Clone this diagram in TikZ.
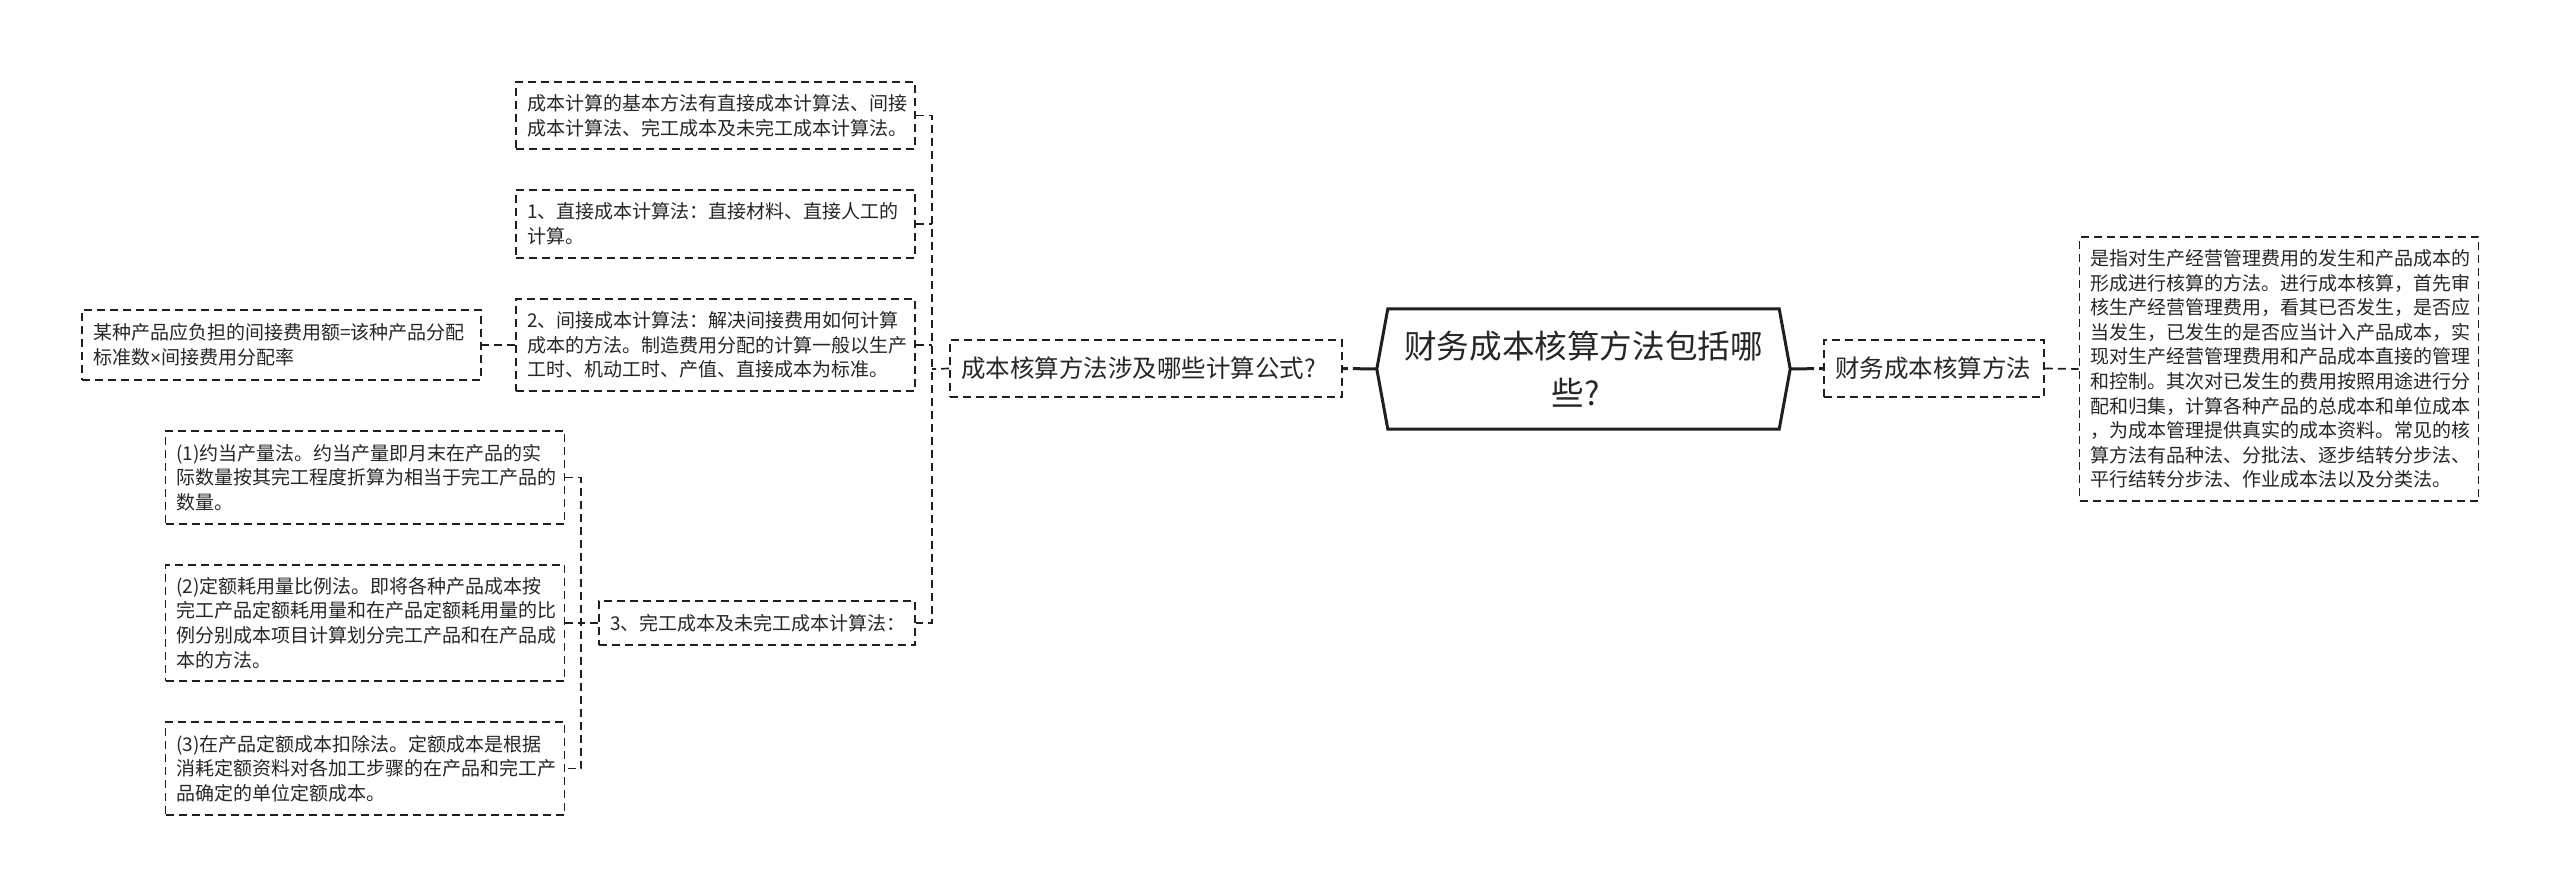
\documentclass[tikz,border=0pt]{standalone}
\usepackage{fontspec}
\setmainfont{Noto Sans CJK SC}
\newfontfamily\latinfont{Liberation Sans}
\tikzset{
  x=1pt,y=-1pt,
  dashline/.style={line width=1.7pt,draw=black!88,dash pattern=on 8pt off 5pt},
  bx/.style={dashline,rectangle,inner xsep=11pt,inner ysep=0pt,align=left,text=black!85,
    font=\fontsize{19}{24.6}\selectfont},
  bigbx/.style={dashline,rectangle,inner xsep=11pt,inner ysep=0pt,align=left,text=black!85,
    font=\fontsize{24.5}{30}\selectfont},
  rootbx/.style={rectangle,inner sep=0pt,align=center,text=black!85,
    font=\fontsize{32.6}{47}\selectfont,minimum width=413pt,minimum height=120pt},
  rootlink/.style={line width=3pt,draw=black!88,dash pattern=on 24pt off 5pt on 5pt off 5pt},
  link/.style={dashline},
}
\begin{document}
\begin{tikzpicture}
\useasboundingbox (0,0) rectangle (2560,896);
% root
\node[rootbx] (hex) at (1583.5,369) {财务成本核算方法包括哪\\些?\hspace*{16pt}};
\draw[line width=3pt,draw=black!88,line join=miter]
  (hex.west) -- ([xshift=11pt]hex.north west) -- ([xshift=-11pt]hex.north east) -- (hex.east)
  -- ([xshift=-11pt]hex.south east) -- ([xshift=11pt]hex.south west) -- cycle;
% level 1
\node[bigbx,text width=370pt,minimum height=57pt] (calc) at (1146,368.5) {成本核算方法涉及哪些计算公式?};
\node[bigbx,text width=198pt,minimum height=57pt] (method) at (1934,368.5) {财务成本核算方法};
\node[bx,text width=377pt,minimum height=264pt] (desc) at (2279,369)
 {是指对生产经营管理费用的发生和产品成本的\\形成进行核算的方法。进行成本核算，首先审\\核生产经营管理费用，看其已否发生，是否应\\当发生，已发生的是否应当计入产品成本，实\\现对生产经营管理费用和产品成本直接的管理\\和控制。其次对已发生的费用按照用途进行分\\配和归集，计算各种产品的总成本和单位成本\\，为成本管理提供真实的成本资料。常见的核\\算方法有品种法、分批法、逐步结转分步法、\\平行结转分步法、作业成本法以及分类法。};
% level 2
\node[bx,text width=377pt,minimum height=67pt] (basic) at (715.5,115.5)
 {成本计算的基本方法有直接成本计算法、间接\\成本计算法、完工成本及未完工成本计算法。};
\node[bx,text width=377pt,minimum height=68pt] (direct) at (715.5,224)
 {1、直接成本计算法：直接材料、直接人工的\\计算。};
\node[bx,text width=377pt,minimum height=92pt] (indirect) at (715.5,345)
 {2、间接成本计算法：解决间接费用如何计算\\成本的方法。制造费用分配的计算一般以生产\\工时、机动工时、产值、直接成本为标准。};
\node[bx,text width=294pt,minimum height=44pt] (finish) at (757,623)
 {3、完工成本及未完工成本计算法：};
% level 3
\node[bx,text width=377pt,minimum height=70pt] (formula) at (281.5,345)
 {某种产品应负担的间接费用额=该种产品分配\\标准数{\latinfont ×}间接费用分配率};
\node[bx,text width=377pt,minimum height=93pt] (m1) at (365,477.5)
 {(1)约当产量法。约当产量即月末在产品的实\\际数量按其完工程度折算为相当于完工产品的\\数量。};
\node[bx,text width=377pt,minimum height=116pt] (m2) at (365,623)
 {(2)定额耗用量比例法。即将各种产品成本按\\完工产品定额耗用量和在产品定额耗用量的比\\例分别成本项目计算划分完工产品和在产品成\\本的方法。};
\node[bx,text width=377pt,minimum height=93pt] (m3) at (365,768.5)
 {(3)在产品定额成本扣除法。定额成本是根据\\消耗定额资料对各加工步骤的在产品和完工产\\品确定的单位定额成本。};
% junctions
\coordinate (j1) at (932,369);
\coordinate (j2) at (581,623);
% connectors
\draw[rootlink] (hex.west) -- (calc.east);
\draw[rootlink] (hex.east) -- (method.west);
\draw[link] (method.east) -- (desc.west);
\draw[link] (calc.west) -- (j1);
\draw[link] (basic.east) -- (basic.east -| j1) -- (finish.east -| j1) -- (finish.east);
\draw[link] (direct.east) -- (direct.east -| j1);
\draw[link] (indirect.east) -- (indirect.east -| j1);
\draw[link] (indirect.west) -- (formula.east);
\draw[link] (finish.west) -- (j2);
\draw[link] (m1.east) -- (m1.east -| j2) -- (m3.east -| j2) -- (m3.east);
\draw[link] (m2.east) -- (j2);
\end{tikzpicture}
\end{document}
